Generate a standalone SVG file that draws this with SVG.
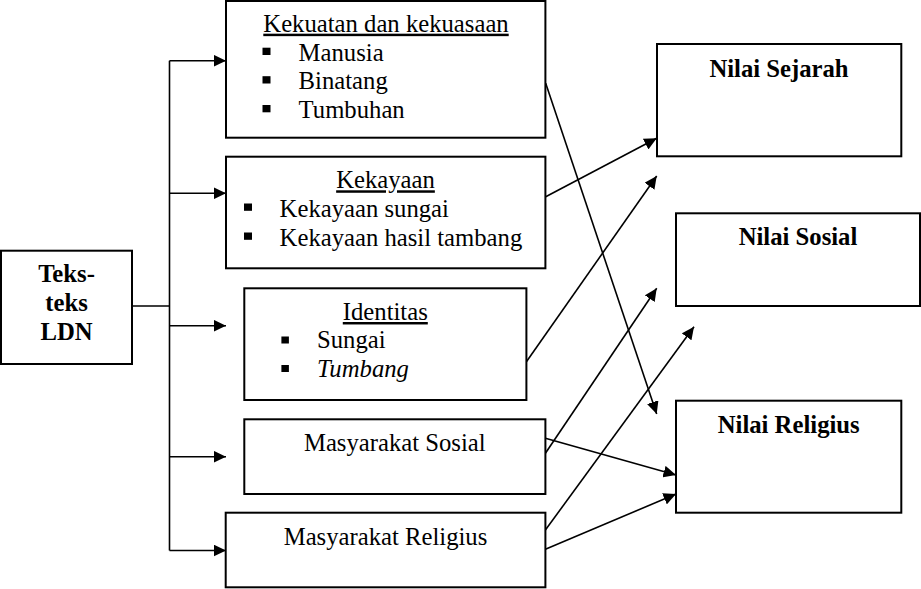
<svg xmlns="http://www.w3.org/2000/svg" width="921" height="589" viewBox="0 0 921 589">
<style>
.box{fill:#fff;stroke:#000;stroke-width:2}
.t{font-family:'Liberation Serif','DejaVu Serif',serif;font-size:24.7px;fill:#000}
.c{text-anchor:middle}
.b{font-weight:bold}
.u{text-decoration:underline}
.i{font-style:italic}
.conn{fill:none;stroke:#000;stroke-width:1.6}
.blt{fill:#000}
</style>
<defs>
<marker id="ah" markerUnits="userSpaceOnUse" markerWidth="13" markerHeight="12" refX="12.5" refY="6" orient="auto">
<path d="M0,0 L12.5,6 L0,12 z" fill="#000"/>
</marker>
</defs>
<g id="connectors">
<path class="conn" d="M132,306 H169.5 M169.5,60.7 V550.5"/>
<path class="conn" d="M169.5,60.7 H226" marker-end="url(#ah)"/>
<path class="conn" d="M169.5,193.3 H226" marker-end="url(#ah)"/>
<path class="conn" d="M169.5,325.7 H226" marker-end="url(#ah)"/>
<path class="conn" d="M169.5,456.7 H226" marker-end="url(#ah)"/>
<path class="conn" d="M169.5,550.5 H226" marker-end="url(#ah)"/>
<path class="conn" d="M545.7,83.3 L656.7,414" marker-end="url(#ah)"/>
<path class="conn" d="M545.7,196.7 L656.7,138.3" marker-end="url(#ah)"/>
<path class="conn" d="M526.4,361.7 L656.7,176" marker-end="url(#ah)"/>
<path class="conn" d="M545.4,453.3 L656.7,288.3" marker-end="url(#ah)"/>
<path class="conn" d="M545.4,438.3 L676,475" marker-end="url(#ah)"/>
<path class="conn" d="M545.4,530 L694,326.7" marker-end="url(#ah)"/>
<path class="conn" d="M545.4,549.3 L676,494" marker-end="url(#ah)"/>
</g>
<g id="teks-ldn">
<rect class="box" x="1" y="250.7" width="131" height="113.3"/>
<text class="t b c" x="66.5" y="281.7">Teks-</text>
<text class="t b c" x="66.5" y="310.7">teks</text>
<text class="t b c" x="66.5" y="340">LDN</text>
</g>
<g id="kekuatan">
<rect class="box" x="226" y="1" width="319.4" height="136.7"/>
<text class="t c u" x="386" y="31.7">Kekuatan dan kekuasaan</text>
<rect class="blt" x="262.5" y="47.7" width="8" height="7.3"/>
<rect class="blt" x="262.5" y="76.2" width="8" height="7.3"/>
<rect class="blt" x="262.5" y="105" width="8" height="7.3"/>
<text class="t" x="298.6" y="61">Manusia</text>
<text class="t" x="298.6" y="89.3">Binatang</text>
<text class="t" x="298.6" y="118.3">Tumbuhan</text>
</g>
<g id="kekayaan">
<rect class="box" x="226" y="156.7" width="319.4" height="111.6"/>
<text class="t c u" x="385.5" y="188.3">Kekayaan</text>
<rect class="blt" x="244" y="203.5" width="8" height="7.3"/>
<rect class="blt" x="244" y="232.5" width="8" height="7.3"/>
<text class="t" x="279.6" y="216.7">Kekayaan sungai</text>
<text class="t" x="279.6" y="246">Kekayaan hasil tambang</text>
</g>
<g id="identitas">
<rect class="box" x="244.3" y="288.3" width="282.1" height="111.7"/>
<text class="t c u" x="385.3" y="320">Identitas</text>
<rect class="blt" x="281.4" y="336.5" width="7.5" height="7"/>
<rect class="blt" x="281.4" y="365" width="7.5" height="7"/>
<text class="t" x="317" y="348.3">Sungai</text>
<text class="t i" x="317" y="376.7">Tumbang</text>
</g>
<g id="masyarakat-sosial">
<rect class="box" x="244.3" y="419.3" width="301.1" height="74.7"/>
<text class="t c" x="394.8" y="450.7">Masyarakat Sosial</text>
</g>
<g id="masyarakat-religius">
<rect class="box" x="225.7" y="512.7" width="319.7" height="74.6"/>
<text class="t c" x="385.5" y="545">Masyarakat Religius</text>
</g>
<g id="nilai-sejarah">
<rect class="box" x="657" y="44" width="244.3" height="112.3"/>
<text class="t b c" x="779" y="77.3">Nilai Sejarah</text>
</g>
<g id="nilai-sosial">
<rect class="box" x="676" y="213.3" width="244" height="92.7"/>
<text class="t b c" x="798" y="245">Nilai Sosial</text>
</g>
<g id="nilai-religius">
<rect class="box" x="676" y="400.7" width="225.3" height="112"/>
<text class="t b c" x="788.7" y="432.7">Nilai Religius</text>
</g>
</svg>
